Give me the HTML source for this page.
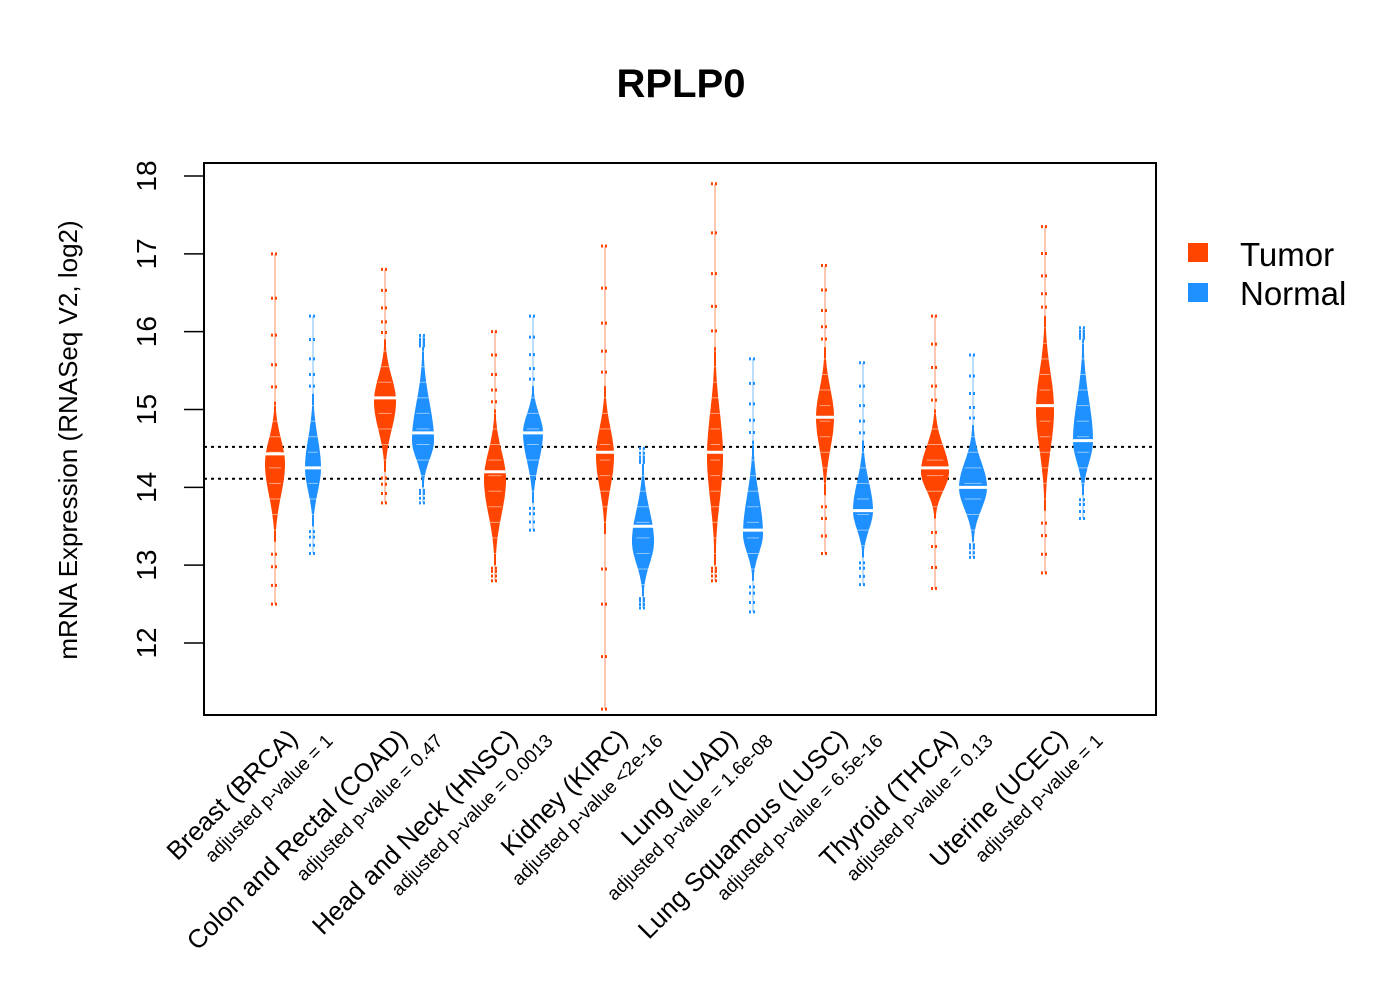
<!DOCTYPE html>
<html><head><meta charset="utf-8"><style>
html,body{margin:0;padding:0;background:#fff;}
svg{display:block;font-family:"Liberation Sans",Arial,sans-serif;}
</style></head><body>
<svg id="chart" width="1400" height="1000" viewBox="0 0 1400 1000">
<text x="681" y="97" text-anchor="middle" font-size="40" font-weight="bold">RPLP0</text>
<rect x="204" y="163" width="952" height="552" fill="none" stroke="#000" stroke-width="2"/>
<g id="yaxis"></g>
<text transform="translate(77,440) rotate(-90)" text-anchor="middle" font-size="26">mRNA Expression (RNASeq V2, log2)</text>
<g id="refs"></g>
<g id="beans"></g>
<g id="xlabels"></g>
<g>
<rect x="1188" y="243" width="20" height="19" fill="#FF4500"/>
<text x="1240" y="266" font-size="33">Tumor</text>
<rect x="1188" y="283" width="20" height="19" fill="#1E90FF"/>
<text x="1240" y="305" font-size="33">Normal</text>
</g>
</svg>
<script>
const categories=["Breast (BRCA)","Colon and Rectal (COAD)","Head and Neck (HNSC)","Kidney (KIRC)","Lung (LUAD)","Lung Squamous (LUSC)","Thyroid (THCA)","Uterine (UCEC)"];
const pvalues=["adjusted p-value = 1","adjusted p-value = 0.47","adjusted p-value = 0.0013","adjusted p-value <2e-16","adjusted p-value = 1.6e-08","adjusted p-value = 6.5e-16","adjusted p-value = 0.13","adjusted p-value = 1"];
const tumorMin=[12.5,13.8,12.8,11.15,12.8,13.15,12.7,12.9];
const tumorMax=[17.0,16.8,16.0,17.1,17.9,16.85,16.2,17.35];
const tumorBodyLo=[13.3,14.2,13.0,13.4,13.0,13.9,13.6,13.7];
const tumorBodyHi=[15.1,15.9,15.0,15.3,15.8,15.8,15.0,16.2];
const tumorMode=[14.3,15.1,14.1,14.4,14.4,14.9,14.2,15.0];
const tumorMedian=[14.43,15.15,14.2,14.45,14.45,14.9,14.25,15.05];
const tumorWidth=[10,11,11,9,8,9,14,9];
const normalMin=[13.15,13.8,13.45,12.45,12.4,12.75,13.1,13.6];
const normalMax=[16.2,15.95,16.2,14.5,15.65,15.6,15.7,16.05];
const normalBodyLo=[13.5,14.0,13.8,12.6,12.8,13.1,13.3,13.9];
const normalBodyHi=[15.2,15.8,15.3,14.3,14.6,14.6,14.8,15.9];
const normalMode=[14.25,14.6,14.7,13.3,13.4,13.7,14.0,14.6];
const normalMedian=[14.25,14.7,14.7,13.5,13.45,13.7,14.0,14.6];
const normalWidth=[8,11,10,11,10,10,14,10];
const yTicks=[12,13,14,15,16,17,18];
const refLines=[14.52,14.11];

const NS="http://www.w3.org/2000/svg";
function y(v){return 176+(18-v)*77.83;}
function xT(i){return 275+110*i;}
function mk(tag,attrs,parent){const e=document.createElementNS(NS,tag);for(const k in attrs)e.setAttribute(k,attrs[k]);parent.appendChild(e);return e;}
const ya=document.getElementById('yaxis');
yTicks.forEach(t=>{
  const l=mk('line',{x1:184,x2:204,y1:y(t),y2:y(t),stroke:'#000','stroke-width':1.5},ya);
  
  
  const tx=mk('text',{transform:`translate(156,${y(t)}) rotate(-90)`,'text-anchor':'middle','font-size':28},ya);
  tx.textContent=t;
  
  
});
const rg=document.getElementById('refs');
refLines.forEach(r=>{
  const l=mk('line',{x1:204,x2:1156,y1:y(r),y2:y(r),stroke:'#000','stroke-width':2,'stroke-dasharray':'3,4'},rg);
  
  
});
const bg=document.getElementById('beans');
function bean(cx,mn,mx,lo,hi,mode,med,w,col,name){
  const g=mk('g',{},bg);
  
  
  mk('line',{x1:cx,x2:cx,y1:y(mx),y2:y(mn),stroke:col,'stroke-width':1,opacity:0.6},g);
  const sL=(mode-lo)/2.5, sH=(hi-mode)/2.5;
  const pts=[],ptsL=[];
  for(let k=0;k<=60;k++){
    const v=lo+(hi-lo)*k/60;
    const s=v<mode?sL:sH;
    const ww=Math.max(1,w*Math.exp(-0.5*Math.pow((v-mode)/s,2)));
    pts.push((cx+ww).toFixed(1)+','+y(v).toFixed(1));
    ptsL.unshift((cx-ww).toFixed(1)+','+y(v).toFixed(1));
  }
  mk('polygon',{points:pts.concat(ptsL).join(' '),fill:col},g);
  const outs=[mn,mn+(lo-mn)*0.3,mn+(lo-mn)*0.6,mn+(lo-mn)*0.8,mx,mx-(mx-hi)*0.3,mx-(mx-hi)*0.55,mx-(mx-hi)*0.75,mx-(mx-hi)*0.9];
  outs.forEach(v=>{mk('line',{x1:cx-4,x2:cx+4,y1:y(v),y2:y(v),stroke:col,'stroke-width':3,'stroke-dasharray':'2,2'},g);});
  for(let v=lo+0.15;v<hi;v+=0.2){mk('line',{x1:cx-w*0.6,x2:cx+w*0.6,y1:y(v),y2:y(v),stroke:'#fff','stroke-width':1,opacity:0.5},g);}
  const m=mk('line',{x1:cx-w-4,x2:cx+w+4,y1:y(med),y2:y(med),stroke:'#fff','stroke-width':3},g);
  
  
}
categories.forEach((c,i)=>{
  bean(xT(i),tumorMin[i],tumorMax[i],tumorBodyLo[i],tumorBodyHi[i],tumorMode[i],tumorMedian[i],tumorWidth[i],'#FF4500','bean-tumor');
  bean(xT(i)+38,normalMin[i],normalMax[i],normalBodyLo[i],normalBodyHi[i],normalMode[i],normalMedian[i],normalWidth[i],'#1E90FF','bean-normal');
});
const xl=document.getElementById('xlabels');
categories.forEach((c,i)=>{
  const cx=xT(i)+19;
  const t=mk('text',{transform:`translate(${cx+5},740) rotate(-45)`,'text-anchor':'end','font-size':26},xl);
  t.textContent=c;
  
  
  const p=mk('text',{transform:`translate(${cx+40},742) rotate(-45)`,'text-anchor':'end','font-size':19},xl);
  p.textContent=pvalues[i];
  
  
});
</script>
</body></html>
